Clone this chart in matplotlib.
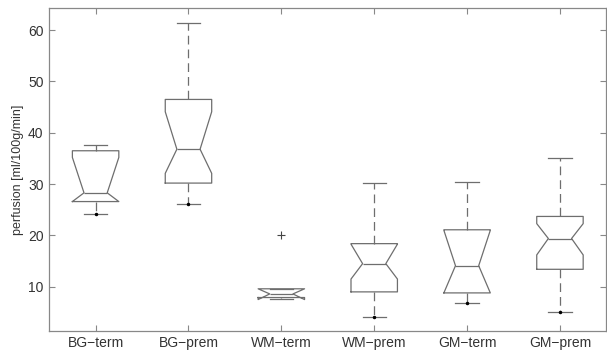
import matplotlib
matplotlib.use("Agg")
from matplotlib import pyplot as plt

# values (ml/100g/min)
labels = ["BG\u2212term", "BG\u2212prem", "WM\u2212term", "WM\u2212prem", "GM\u2212term", "GM\u2212prem"]
whishi = [37.6, 61.3, 9.6, 30.2, 30.5, 35.1]
q3 = [36.5, 46.5, 9.6, 18.4, 21.1, 23.7]
cihi = [35.2, 44.1, 9.6, 18.3, 21.0, 22.3]
med = [28.3, 36.8, 8.6, 14.5, 14.1, 19.4]
cilo = [26.6, 32.1, 7.5, 11.5, 8.8, 16.2]
q1 = [26.6, 30.2, 7.9, 9.0, 8.8, 13.4]
whislo = [24.1, 26.2, 7.6, 4.2, 6.9, 5.1]
outliers = [[], [], [20.1], [], [], []]
# small dots at the lower whisker ends
dot_pos = [1, 2, 4, 5, 6]
dot_val = [24.1, 26.2, 4.2, 6.9, 5.1]

stats = []
for i in range(len(labels)):
    stats.append(dict(label=labels[i], whishi=whishi[i], q3=q3[i], cihi=cihi[i], med=med[i],
                      cilo=cilo[i], q1=q1[i], whislo=whislo[i], fliers=outliers[i]))

plt.rcParams['font.family'] = ['Liberation Sans', 'DejaVu Sans']
gray = '#6e6e6e'

fig = plt.figure(figsize=(6.07, 3.52), dpi=100)
ax = fig.add_axes([0.081, 0.060, 0.918, 0.917])

ax.bxp(stats, positions=range(1, 7), widths=0.5, shownotches=True,
       boxprops=dict(color=gray, linewidth=0.9),
       medianprops=dict(color=gray, linewidth=0.9),
       whiskerprops=dict(color=gray, linewidth=0.9, linestyle=(0, (7, 4))),
       capprops=dict(color=gray, linewidth=0.9),
       flierprops=dict(marker='+', markeredgecolor='#444444', markersize=6, markeredgewidth=0.8))
ax.plot(dot_pos, dot_val, linestyle='none', marker='o', color='black', markersize=1.5)

ax.set_xlim(0.5, 6.5)
ax.set_ylim(1.4, 64.3)
ax.set_yticks([10, 20, 30, 40, 50, 60])
ax.set_ylabel("perfusion [ml/100g/min]", fontsize=9, color='#333333', labelpad=3)
ax.tick_params(direction='in', top=True, right=True, length=4, width=0.8, color='#888888',
               labelsize=10, labelcolor='#333333', pad=4)
for s in ax.spines.values():
    s.set_color('#888888')
    s.set_linewidth(0.9)

fig.savefig("out.png", dpi=100)
